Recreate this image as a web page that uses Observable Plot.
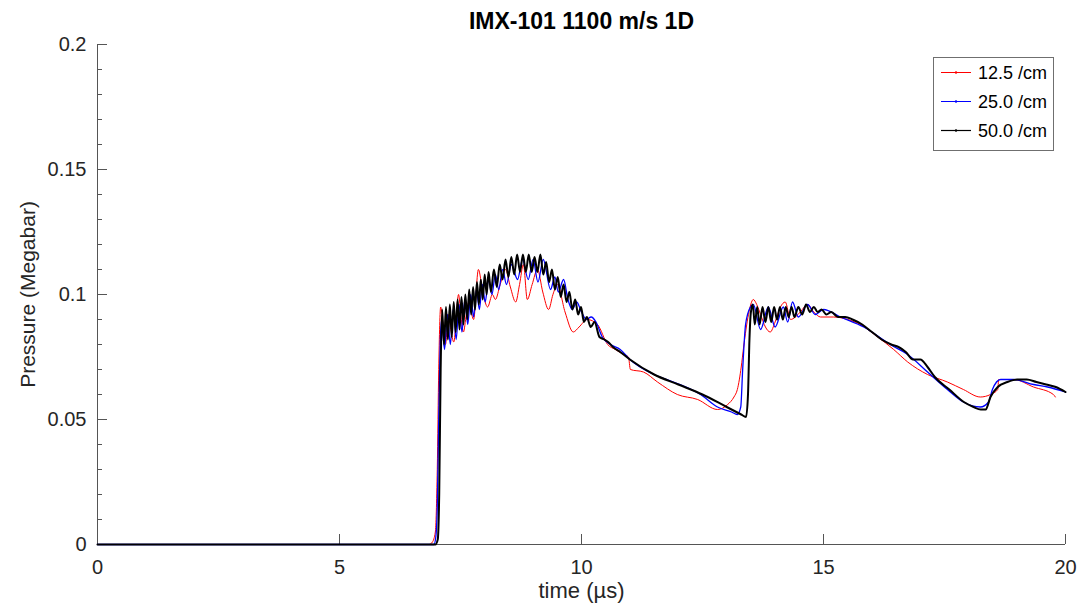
<!DOCTYPE html>
<html><head><meta charset="utf-8">
<script src="https://cdn.jsdelivr.net/npm/d3@7"></script>
<script src="https://cdn.jsdelivr.net/npm/@observablehq/plot@0.6"></script>
<style>
body{margin:0;background:#fff;}
#wrap{position:relative;width:1079px;height:603px;font-family:"Liberation Sans",Arial,sans-serif;}
#legend{position:absolute;left:933px;top:57px;width:119px;height:92px;border:1px solid #6f6f6f;background:#fff;}
</style></head><body><div id="wrap"><div id="legend"></div></div>
<script>
const title = "IMX-101 1100 m/s 1D";
const xLabel = "time (µs)";
const yLabel = "Pressure (Megabar)";
const seriesNames = ["12.5 /cm", "25.0 /cm", "50.0 /cm"];
const seriesColors = ["#ff0000", "#0000ff", "#000000"];
const xTicks = [0, 5, 10, 15, 20];
const yTicks = [0, 0.05, 0.1, 0.15, 0.2];
const yMinorTicks = [0.01,0.02,0.03,0.04,0.06,0.07,0.08,0.09,0.11,0.12,0.13,0.14,0.16,0.17,0.18,0.19];

// [time µs, pressure Mbar]
const red = [
[0,0],[6.85,0],[6.92,0.001],[6.98,0.005],[7.02,0.03],[7.05,0.07],[7.09,0.095],[7.14,0.088],[7.19,0.080],[7.25,0.092],[7.30,0.086],[7.36,0.081],[7.46,0.100],[7.51,0.091],[7.56,0.085],[7.62,0.092],[7.67,0.097],[7.77,0.090],[7.87,0.110],[7.96,0.101],[8.06,0.095],[8.16,0.100],[8.22,0.098],[8.32,0.104],[8.43,0.110],[8.53,0.103],[8.64,0.097],[8.72,0.104],[8.80,0.112],[8.88,0.098],[8.98,0.104],[9.09,0.110],[9.20,0.101],[9.32,0.094],[9.41,0.100],[9.50,0.104],[9.66,0.093],[9.83,0.085],[9.95,0.087],[10.12,0.090],[10.33,0.088],[10.54,0.080],[10.70,0.078],[10.87,0.076],[10.97,0.075],[11.01,0.070],[11.28,0.069],[11.57,0.065],[11.98,0.060],[12.40,0.058],[12.81,0.054],[13.02,0.056],[13.15,0.059],[13.22,0.062],[13.30,0.071],[13.35,0.079],[13.45,0.092],[13.55,0.098],[13.62,0.096],[13.70,0.092],[13.80,0.087],[13.90,0.085],[14.00,0.089],[14.11,0.095],[14.21,0.097],[14.32,0.090],[14.42,0.091],[14.52,0.093],[14.67,0.096],[14.80,0.093],[14.94,0.091],[15.21,0.091],[15.50,0.090],[15.76,0.088],[16.12,0.083],[16.45,0.078],[16.74,0.073],[17.15,0.068],[17.56,0.065],[17.89,0.062],[18.24,0.059],[18.45,0.060],[18.60,0.062],[18.62,0.066],[18.93,0.066],[19.34,0.063],[19.75,0.060],[19.79,0.059]
];
const blue = [
[0,0],[6.95,0],[6.99,0.003],[7.02,0.015],[7.05,0.05],[7.08,0.08],[7.11,0.090],[7.17,0.078],[7.23,0.092],[7.29,0.080],[7.35,0.094],[7.41,0.082],[7.47,0.096],[7.53,0.085],[7.59,0.098],[7.65,0.088],[7.71,0.100],[7.77,0.091],[7.83,0.102],[7.89,0.094],[7.95,0.104],[8.01,0.097],[8.08,0.106],[8.15,0.100],[8.22,0.108],[8.29,0.102],[8.37,0.110],[8.45,0.104],[8.55,0.112],[8.68,0.106],[8.78,0.114],[8.90,0.106],[9.00,0.114],[9.10,0.105],[9.21,0.114],[9.36,0.102],[9.45,0.107],[9.52,0.101],[9.63,0.106],[9.72,0.098],[9.81,0.094],[9.90,0.097],[10.0,0.093],[10.1,0.090],[10.2,0.091],[10.3,0.089],[10.43,0.083],[10.6,0.080],[10.8,0.078],[11.0,0.074],[11.5,0.068],[11.9,0.065],[12.46,0.060],[12.81,0.055],[13.1,0.053],[13.22,0.052],[13.29,0.055],[13.33,0.070],[13.39,0.088],[13.49,0.095],[13.55,0.096],[13.70,0.086],[13.86,0.095],[14.00,0.087],[14.17,0.095],[14.26,0.089],[14.36,0.097],[14.48,0.091],[14.67,0.096],[14.83,0.092],[15.0,0.094],[15.35,0.091],[15.83,0.087],[16.38,0.080],[16.74,0.076],[17.15,0.069],[17.56,0.062],[17.89,0.057],[18.24,0.055],[18.41,0.057],[18.49,0.062],[18.66,0.066],[18.93,0.066],[19.34,0.064],[19.63,0.063],[20.0,0.061]
];
const black = [
[0,0],[6.98,0],[7.03,0.002],[7.06,0.02],[7.09,0.07],[7.12,0.094],[7.16,0.080],[7.20,0.095],[7.24,0.082],[7.28,0.096],[7.32,0.083],[7.36,0.097],[7.40,0.085],[7.44,0.098],[7.48,0.086],[7.52,0.099],[7.56,0.088],[7.60,0.100],[7.64,0.090],[7.68,0.102],[7.72,0.092],[7.76,0.103],[7.80,0.094],[7.84,0.105],[7.88,0.096],[7.92,0.106],[7.96,0.098],[8.00,0.108],[8.04,0.100],[8.08,0.109],[8.13,0.101],[8.19,0.110],[8.25,0.103],[8.31,0.112],[8.37,0.106],[8.43,0.114],[8.49,0.107],[8.55,0.115],[8.61,0.108],[8.67,0.116],[8.73,0.109],[8.79,0.116],[8.85,0.109],[8.91,0.116],[8.97,0.109],[9.03,0.115],[9.09,0.109],[9.15,0.116],[9.21,0.108],[9.27,0.113],[9.33,0.105],[9.39,0.110],[9.45,0.102],[9.51,0.107],[9.57,0.099],[9.63,0.104],[9.69,0.097],[9.75,0.101],[9.81,0.094],[9.87,0.098],[9.93,0.092],[9.99,0.095],[10.05,0.089],[10.11,0.091],[10.19,0.087],[10.27,0.089],[10.37,0.083],[10.47,0.082],[10.55,0.081],[10.65,0.079],[10.8,0.077],[11.0,0.074],[11.5,0.068],[12.0,0.064],[12.5,0.060],[13.0,0.055],[13.3,0.052],[13.40,0.051],[13.44,0.060],[13.47,0.082],[13.50,0.093],[13.54,0.096],[13.58,0.088],[13.63,0.095],[13.68,0.088],[13.74,0.095],[13.80,0.089],[13.86,0.095],[13.92,0.089],[13.98,0.095],[14.04,0.090],[14.10,0.095],[14.16,0.090],[14.22,0.095],[14.28,0.091],[14.34,0.095],[14.40,0.091],[14.48,0.095],[14.56,0.092],[14.64,0.096],[14.72,0.093],[14.80,0.095],[14.88,0.093],[14.96,0.094],[15.06,0.092],[15.16,0.093],[15.3,0.091],[15.45,0.091],[15.6,0.090],[15.8,0.088],[16.0,0.085],[16.2,0.082],[16.4,0.080],[16.55,0.079],[16.7,0.077],[16.85,0.074],[17.0,0.074],[17.15,0.071],[17.3,0.067],[17.6,0.062],[17.9,0.057],[18.1,0.055],[18.25,0.054],[18.35,0.054],[18.45,0.059],[18.6,0.063],[18.8,0.065],[19.0,0.066],[19.2,0.066],[19.4,0.065],[19.6,0.064],[19.8,0.063],[20.0,0.061]
];

const seriesData = [red, blue, black];
const strokeWidths = [1, 1.3, 2];
const axisColor = "#555";
const toRows = pts => pts.map(([t, p]) => ({t, p}));

const lineMarks = seriesData.map((pts, i) =>
  Plot.line(toRows(pts), {x: "t", y: "p", stroke: seriesColors[i], strokeWidth: strokeWidths[i], strokeLinejoin: "round", curve: "monotone-x"}));

const chart = Plot.plot({
  width: 1079, height: 603,
  marginTop: 44, marginBottom: 59, marginLeft: 97, marginRight: 14,
  x: {domain: [0, 20]},
  y: {domain: [0, 0.2]},
  style: {fontFamily: '"Liberation Sans", Arial, sans-serif', fontSize: "20px", color: "#262626", background: "#fff", overflow: "visible"},
  marks: [
    Plot.ruleX([0], {stroke: axisColor}),
    Plot.ruleY([0], {stroke: axisColor}),
    Plot.ruleX(xTicks, {x: d => d, y1: 0, y2: 0, insetTop: -10, stroke: axisColor}),
    Plot.ruleY(yTicks, {y: d => d, x1: 0, x2: 0, insetRight: -10, stroke: axisColor}),
    Plot.ruleY(yMinorTicks, {y: d => d, x1: 0, x2: 0, insetRight: -5, stroke: axisColor}),
    Plot.axisX({ticks: xTicks, tickSize: 0, tickPadding: 15, fontSize: 20, label: null, tickFormat: d => String(d)}),
    Plot.axisX({ticks: [], tickSize: 0, label: xLabel, labelArrow: "none", labelAnchor: "center", labelOffset: 53, fontSize: 22}),
    Plot.axisY({ticks: yTicks, tickSize: 0, tickPadding: 11, fontSize: 20, label: null, tickFormat: d => String(d)}),
    Plot.axisY({ticks: [], tickSize: 0, label: yLabel, labelArrow: "none", labelAnchor: "center", labelOffset: 77, fontSize: 21}),
    ...lineMarks,
    Plot.text([title], {text: d => d, frameAnchor: "top", dy: -16, lineAnchor: "bottom", fontWeight: "bold", fontSize: 23, fill: "#000"})
  ]
});
const wrap = document.getElementById("wrap");
wrap.insertBefore(chart, wrap.firstChild);

// legend
const lg = d3.select("#legend").append("svg").attr("width", 119).attr("height", 92)
  .style("font-family", '"Liberation Sans", Arial, sans-serif');
seriesNames.forEach((name, i) => {
  const y = 14.5 + i * 29;
  lg.append("line").attr("x1", 7).attr("x2", 37).attr("y1", y).attr("y2", y)
    .attr("stroke", seriesColors[i]).attr("stroke-width", strokeWidths[i] === 2 ? 1.2 : 1);
  lg.append("circle").attr("cx", 22).attr("cy", y).attr("r", 1.2).attr("fill", seriesColors[i]);
  lg.append("text").attr("x", 44).attr("y", y).attr("dy", "0.35em")
    .attr("font-size", 18).attr("fill", "#000").text(name);
});
</script></body></html>
